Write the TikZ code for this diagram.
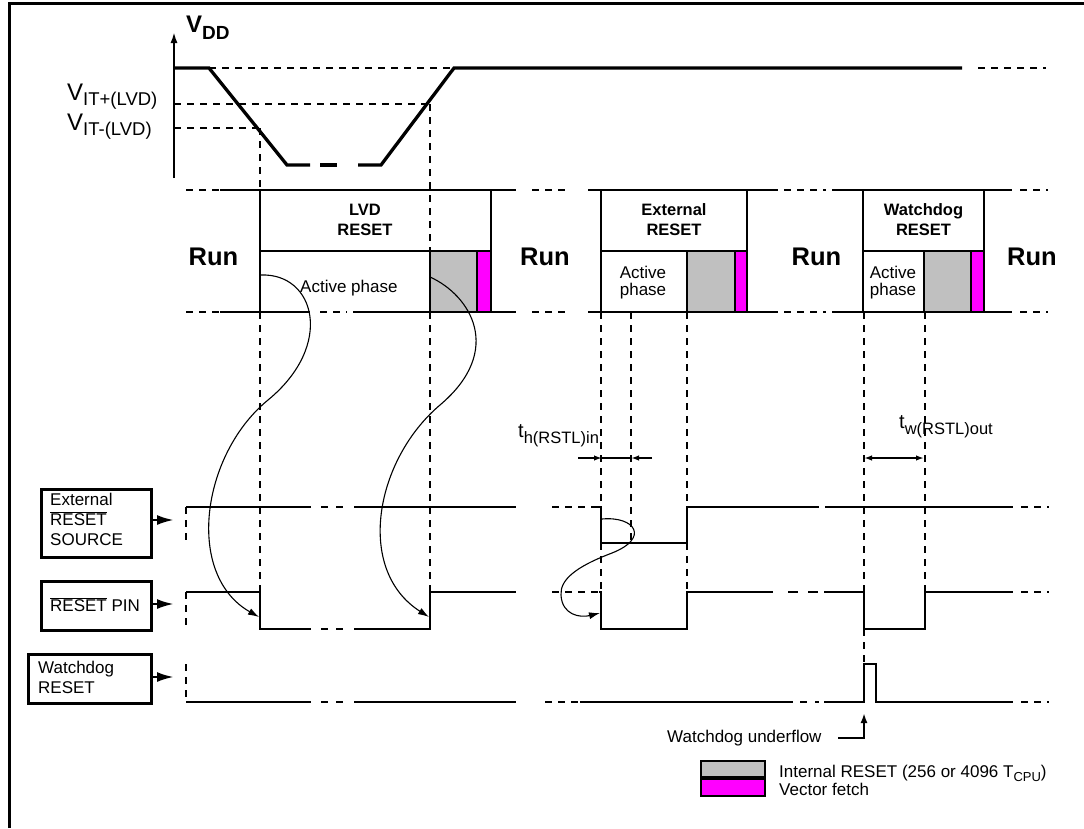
\documentclass[tikz,border=0pt]{standalone}
\usepackage{fontspec}
\setmainfont{Liberation Sans}
\usetikzlibrary{arrows.meta}
\definecolor{rgray}{HTML}{C0C0C0}
\definecolor{vmag}{HTML}{FF00FF}
\newcommand{\ovl}[1]{$\overline{\mbox{#1}}$}
\begin{document}
\begin{tikzpicture}[x=1pt,y=-1pt,
  thk/.style={line width=2.8pt},
  vddw/.style={line width=3.3pt},
  dsh/.style={line width=2.2pt, dash pattern=on 7pt off 6pt},
  gapd/.style={line width=2.8pt, dash pattern=on 7pt off 8pt},
  gapw/.style={line width=2.8pt, dash pattern=on 10pt off 10pt},
  curv/.style={line width=1.1pt, -{Latex[length=11pt,width=7pt]}},
  lbox/.style={draw, line width=2.5pt, inner sep=0pt, anchor=north west},
  txt/.style={inner sep=0pt, font=\fontsize{17}{17}\selectfont},
  btxt/.style={inner sep=0pt, anchor=base, font=\fontsize{16.5}{16.5}\selectfont\bfseries},
  runt/.style={inner sep=0pt, anchor=base, font=\fontsize{25.5}{25.5}\selectfont\bfseries},
  ptr/.style={line width=2.5pt, -{Latex[length=17pt,width=10pt]}},
  tarr/.style={line width=1.7pt},
  legbox/.style={draw=black, line width=2.2pt}
]
\useasboundingbox (0,0) rectangle (1084,828);

% frame
\draw[line width=3pt] (9.5,828) -- (9.5,3.5) -- (1084,3.5);

% ---------------- V_DD ----------------
\draw[line width=2pt, -{Latex[length=11pt,width=7pt]}] (174,178) -- (174,32);
\node[anchor=base west, inner sep=0pt] (vddlbl) at (186,32)
  {\fontsize{24}{24}\selectfont\bfseries V\raisebox{-7pt}{\fontsize{19}{19}\selectfont\bfseries DD}};
\node[anchor=base west, inner sep=0pt] (vitp) at (67,100)
  {\fontsize{24}{24}\selectfont V\raisebox{-5pt}{\fontsize{18.5}{18.5}\selectfont IT+(LVD)}};
\node[anchor=base west, inner sep=0pt] (vitm) at (67,130)
  {\fontsize{24}{24}\selectfont V\raisebox{-5pt}{\fontsize{18.5}{18.5}\selectfont IT-(LVD)}};

\draw[dsh] (209,68) -- (454,68);
\draw[dsh] (174,104) -- (430,104);
\draw[dsh] (174,128) -- (260,128);
\draw[dsh] (260,128) -- (260,190);
\draw[dsh] (430,104) -- (430,251);

\draw[vddw] (174,68) -- (209,68) -- (287,165) -- (310,165);
\draw[vddw] (320,165) -- (337,165);
\draw[vddw] (358,165) -- (381,165) -- (454,68) -- (962,68);
\draw[dsh] (978,68) -- (1046,68);

% ---------------- state bar ----------------
\filldraw[fill=rgray, legbox] (430,251) rectangle (477,312);
\filldraw[fill=vmag, legbox] (477,251) rectangle (491,312);
\filldraw[fill=rgray, legbox] (687,251) rectangle (735,312);
\filldraw[fill=vmag, legbox] (735,251) rectangle (747,312);
\filldraw[fill=rgray, legbox] (924,251) rectangle (971,312);
\filldraw[fill=vmag, legbox] (971,251) rectangle (984,312);

% top line
\draw[dsh] (186,190) -- (220,190);
\draw[thk] (220,190) -- (516,190);
\draw[dsh] (532,190) -- (571,190);
\draw[thk] (588,190) -- (778,190);
\draw[dsh] (784,190) -- (826,190);
\draw[thk] (832,190) -- (1012,190);
\draw[dsh] (1020,190) -- (1048,190);
% bottom line
\draw[dsh] (186,312) -- (220,312);
\draw[thk] (220,312) -- (310,312);
\draw[dsh] (320,312) -- (347,312);
\draw[thk] (353,312) -- (516,312);
\draw[dsh] (532,312) -- (571,312);
\draw[thk] (588,312) -- (778,312);
\draw[dsh] (784,312) -- (826,312);
\draw[thk] (832,312) -- (1012,312);
\draw[dsh] (1020,312) -- (1048,312);

% reset boxes
\draw[thk] (260,190) -- (260,312);
\draw[thk] (491,190) -- (491,312);
\draw[thk] (260,251) -- (491,251);
\draw[thk] (601,190) -- (601,312);
\draw[thk] (747,190) -- (747,312);
\draw[thk] (601,251) -- (747,251);
\draw[thk] (863,190) -- (863,312);
\draw[thk] (984,190) -- (984,312);
\draw[thk] (863,251) -- (984,251);

\node[runt] (run1) at (213.5,265) {Run};
\node[runt] (run2) at (545,265) {Run};
\node[runt] (run3) at (816.5,265) {Run};
\node[runt] (run4) at (1032,265) {Run};

\node[btxt] (lvd1) at (365,215) {LVD};
\node[btxt] (lvd2) at (365,235) {RESET};
\node[btxt] (ext1) at (674,215) {External};
\node[btxt] (ext2) at (674,235) {RESET};
\node[btxt] (wdg1) at (923.5,215) {Watchdog};
\node[btxt] (wdg2) at (923.5,235) {RESET};

\node[txt, anchor=base west] (act1) at (300,292) {Active phase};
\node[txt, anchor=base] (act2a) at (643,278) {Active};
\node[txt, anchor=base] (act2b) at (643,295) {phase};
\node[txt, anchor=base] (act3a) at (893,278) {Active};
\node[txt, anchor=base] (act3b) at (893,295) {phase};

% ---------------- vertical dashed guides ----------------
\draw[dsh] (260,312) -- (260,592);
\draw[dsh] (430,312) -- (430,592);
\draw[dsh] (601,312) -- (601,507);
\draw[dsh] (601,543) -- (601,592);
\draw[dsh] (631,312) -- (631,543);
\draw[dsh] (687,312) -- (687,507);
\draw[dsh] (687,543) -- (687,592);
\draw[dsh] (864,312) -- (864,592);
\draw[dsh] (864,629) -- (864,664);
\draw[dsh] (925,312) -- (925,592);

% ---------------- label boxes ----------------
\node[lbox, minimum width=110pt, minimum height=68pt] (extsrc) at (40,488) {};
\node[lbox, minimum width=110pt, minimum height=49pt] (rstpin) at (40,580) {};
\node[lbox, minimum width=123pt, minimum height=49pt] (wdgbox) at (27,653) {};
\node[txt, anchor=base west] (es1) at (50,505) {External};
\node[txt, anchor=base west] (es2) at (50,525) {\ovl{RESET}};
\node[txt, anchor=base west] (es3) at (50,545) {SOURCE};
\node[txt, anchor=base west] (rp1) at (50,611) {\ovl{RESET} PIN};
\node[txt, anchor=base west] (wd1) at (38,673) {Watchdog};
\node[txt, anchor=base west] (wd2) at (38,693) {RESET};

\coordinate (extin) at (174,520);
\coordinate (rstin) at (174,604);
\coordinate (wdgin) at (174,677);
\draw[ptr] (extsrc.east |- extin) -- (extin);
\draw[ptr] (rstpin.east |- rstin) -- (rstin);
\draw[ptr] (wdgbox.east |- wdgin) -- (wdgin);

% ---------------- External RESET SOURCE signal ----------------
\draw[dsh] (186,507) -- (186,543);
\draw[thk] (186,507) -- (311,507);
\draw[gapd] (321,507) -- (343,507);
\draw[thk] (354,507) -- (516,507);
\draw[dsh] (552,507) -- (597,507);
\draw[thk] (597,507) -- (601,507) -- (601,543) -- (687,543) -- (687,507) -- (819,507);
\draw[thk] (825,507) -- (1013,507);
\draw[dsh] (1021,507) -- (1049,507);

% ---------------- RESET PIN signal ----------------
\draw[dsh] (186,592) -- (186,629);
\draw[thk] (186,592) -- (260,592) -- (260,629) -- (311,629);
\draw[gapd] (321,629) -- (343,629);
\draw[thk] (354,629) -- (430,629) -- (430,592) -- (516,592);
\draw[dsh] (552,592) -- (599,592);
\draw[thk] (599,592) -- (601,592) -- (601,629) -- (687,629) -- (687,592) -- (773,592);
\draw[gapw] (788,592) -- (818,592);
\draw[thk] (824,592) -- (864,592) -- (864,629) -- (925,629) -- (925,592) -- (1013,592);
\draw[dsh] (1021,592) -- (1049,592);

% ---------------- Watchdog RESET signal ----------------
\draw[dsh] (186,664) -- (186,697);
\draw[thk] (186,702) -- (311,702);
\draw[gapd] (321,702) -- (343,702);
\draw[thk] (354,702) -- (516,702);
\draw[dsh] (545,702) -- (580,702);
\draw[thk] (580,702) -- (793,702);
\draw[gapd] (800,702) -- (819,702);
\draw[thk] (824,702) -- (864,702) -- (864,664) -- (876,664) -- (876,702) -- (1013,702);
\draw[dsh] (1021,702) -- (1049,702);

% ---------------- causal curves ----------------
\draw[curv] (261,275) .. controls (315,273) and (335,345) .. (268,400)
  .. controls (201,455) and (185,575) .. (259,617);
\draw[curv] (430,277) .. controls (470,295) and (505,350) .. (440,405)
  .. controls (375,460) and (355,570) .. (429,617);
\draw[curv] (602,519) .. controls (635,516) and (650,538) .. (612,553)
  .. controls (575,567) and (560,580) .. (561,595)
  .. controls (562,615) and (580,618) .. (600,613);

% ---------------- timing annotations ----------------
\coordinate (th1) at (602,458);
\coordinate (th2) at (631,458);
\draw[tarr, -{Latex[length=8pt,width=5.5pt]}] (578,458) -- (th1);
\draw[tarr] (th1) -- (th2);
\draw[tarr, -{Latex[length=8pt,width=5.5pt]}] (652,458) -- (th2);
\node[anchor=base west, inner sep=0pt] (thlbl) at (518,437)
  {\fontsize{20}{20}\selectfont t\raisebox{-6pt}{\fontsize{16.5}{16.5}\selectfont h(RSTL)in}};

\coordinate (tw1) at (864,458);
\coordinate (tw2) at (924,458);
\draw[tarr, {Latex[length=8pt,width=5.5pt]}-{Latex[length=8pt,width=5.5pt]}] (tw1) -- (tw2);
\node[anchor=base west, inner sep=0pt] (twlbl) at (899,428)
  {\fontsize{20}{20}\selectfont t\raisebox{-6pt}{\fontsize{16.5}{16.5}\selectfont w(RSTL)out}};

% watchdog underflow
\node[txt, anchor=base west] (wdu) at (667,742) {Watchdog underflow};
\coordinate (wduk) at (864,738);
\coordinate (wdut) at (864,713);
\draw[line width=2.2pt, -{Latex[length=10pt,width=7pt]}] (838,738) -- (wduk) -- (wdut);

% ---------------- legend ----------------
\filldraw[fill=rgray, legbox] (701,761) rectangle (765,777);
\filldraw[fill=vmag, legbox] (701,779) rectangle (765,796);
\node[txt, anchor=base west] (leg1) at (779,777)
  {Internal RESET (256 or 4096 T\raisebox{-4pt}{\fontsize{13}{13}\selectfont CPU})};
\node[txt, anchor=base west] (leg2) at (779,795) {Vector fetch};
\end{tikzpicture}
\end{document}
